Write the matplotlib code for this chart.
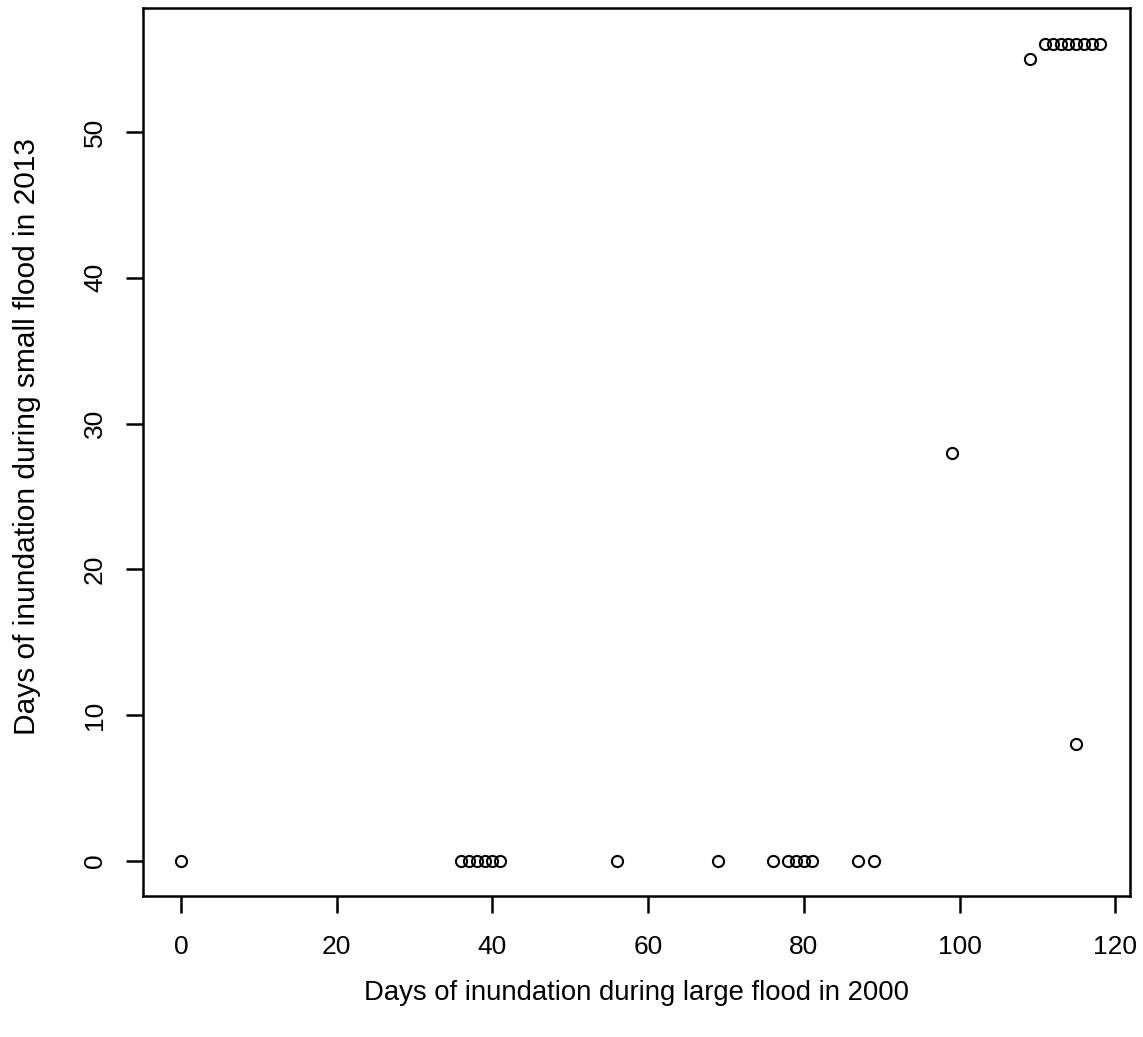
import matplotlib
matplotlib.use("Agg")
import matplotlib.pyplot as plt

# Days of inundation
large_2000 = [0, 36, 37, 38, 39, 40, 41, 56, 69, 76, 78, 79, 80, 81, 87, 89,
              99, 109, 111, 112, 113, 114, 115, 116, 117, 118, 115]
small_2013 = [0, 0, 0, 0, 0, 0, 0, 0, 0, 0, 0, 0, 0, 0, 0, 0,
              28, 55, 56, 56, 56, 56, 56, 56, 56, 56, 8]

x_ticks = [0, 20, 40, 60, 80, 100, 120]
y_ticks = [0, 10, 20, 30, 40, 50]

plt.rcParams['font.family'] = ['Liberation Sans', 'DejaVu Sans']

fig = plt.figure(figsize=(11.43, 10.37), dpi=100)
ax = fig.add_axes([0.1251, 0.136, 0.8635, 0.8563])

ax.plot(large_2000, small_2013, 'o', mfc='none', mec='black', ms=8, mew=1.5)

ax.set_xlim(-4.9, 121.9)
ax.set_ylim(-2.4, 58.5)
ax.set_xticks(x_ticks)
ax.set_yticks(y_ticks)
ax.set_yticklabels([str(v) for v in y_ticks], rotation=90, va='center')
ax.tick_params(direction='out', length=12, width=1.8, labelsize=19)
ax.tick_params(axis='x', pad=16)
ax.tick_params(axis='y', pad=14)

for s in ax.spines.values():
    s.set_linewidth(1.8)

ax.set_xlabel('Days of inundation during large flood in 2000', fontsize=19.8, labelpad=15)
ax.set_ylabel('Days of inundation during small flood in 2013', fontsize=21.5)
ax.yaxis.set_label_coords(-0.103, 0.517)

fig.savefig('out.png', dpi=100)
